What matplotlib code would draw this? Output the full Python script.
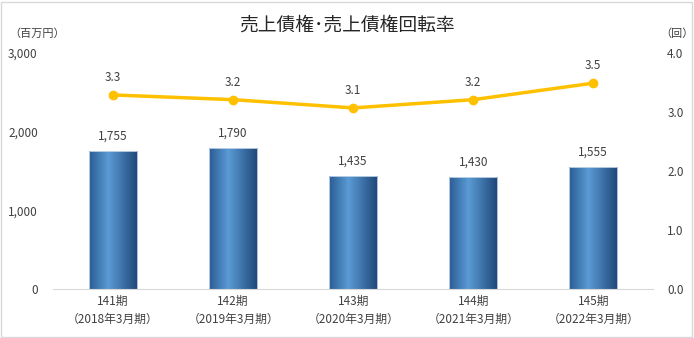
import numpy as np
import matplotlib.pyplot as plt
from matplotlib.colors import LinearSegmentedColormap
from matplotlib.patches import Rectangle

plt.rcParams['font.family'] = ['Noto Sans CJK JP', 'DejaVu Sans']

periods = ["141期", "142期", "143期", "144期", "145期"]
fiscal = ["（2018年3月期）", "（2019年3月期）", "（2020年3月期）", "（2021年3月期）", "（2022年3月期）"]
receivables = [1755, 1790, 1435, 1430, 1555]
turnover = [3.29, 3.21, 3.07, 3.21, 3.49]

fig = plt.figure(figsize=(6.94, 3.38), dpi=100)
ax = fig.add_axes([0.0764, 0.145, 0.865, 0.698])
ax2 = ax.twinx()

x = np.arange(len(periods))
bars = ax.bar(x, receivables, width=0.4, color='none', edgecolor='#c9d9ec', linewidth=0.6, zorder=2)

# horizontal gradient inside each bar
cmap = LinearSegmentedColormap.from_list('bar', [(0, '#2b5c93'), (0.4, '#5b9bd5'), (1, '#1d4677')])
grad = np.linspace(0, 1, 256).reshape(1, -1)
for b in bars:
    im = ax.imshow(grad, cmap=cmap, aspect='auto', zorder=1,
                   extent=[b.get_x(), b.get_x() + b.get_width(), 0, b.get_height()])
    im.set_clip_path(b)
for xi, v in zip(x, receivables):
    ax.annotate(f"{v:,}", (xi, v), xytext=(0, 6), textcoords='offset points',
                ha='center', va='bottom', fontsize=8.5, color='#404040')

ax.set_xlim(-0.5, 4.5)
ax.set_ylim(0, 3000)
ax.set_yticks([0, 1000, 2000, 3000])
ax.set_yticklabels([f"{t:,}" for t in [0, 1000, 2000, 3000]])
ax.set_xticks(x)
ax.set_xticklabels([f"{p}\n{f}" for p, f in zip(periods, fiscal)], fontsize=8.5, color='#404040', linespacing=1.5)

ax2.plot(x, turnover, color='#ffc000', lw=2.5, marker='o', ms=6, zorder=3)
for xi, v in zip(x, turnover):
    ax2.annotate(f"{v:.1f}", (xi, v), xytext=(0, 8), textcoords='offset points',
                 ha='center', va='bottom', fontsize=8.5, color='#404040')
ax2.set_ylim(0, 4)
ax2.set_yticks([0, 1, 2, 3, 4])
ax2.set_yticklabels([f"{t:.1f}" for t in [0, 1, 2, 3, 4]])

for a in (ax, ax2):
    for s in a.spines.values():
        s.set_visible(False)
    a.tick_params(length=0, labelsize=8.5, labelcolor='#404040')
ax.spines['bottom'].set_visible(True)
ax.spines['bottom'].set_color('#d9d9d9')
ax.tick_params(axis='y', pad=11)
ax2.tick_params(axis='y', pad=10)
ax.tick_params(axis='x', pad=4)

fig.text(0.5, 0.925, "売上債権･売上債権回転率", ha='center', va='center', fontsize=13.5, color='#262626')
fig.text(0.014, 0.9, "（百万円）", ha='left', va='center', fontsize=8, color='#404040')
fig.text(0.952, 0.9, "（回）", ha='left', va='center', fontsize=8, color='#404040')

fig.patches.append(Rectangle((0.002, 0.003), 0.995, 0.992, transform=fig.transFigure,
                             fill=False, edgecolor='#d9d9d9', lw=1))

fig.savefig('out.png', dpi=100)
